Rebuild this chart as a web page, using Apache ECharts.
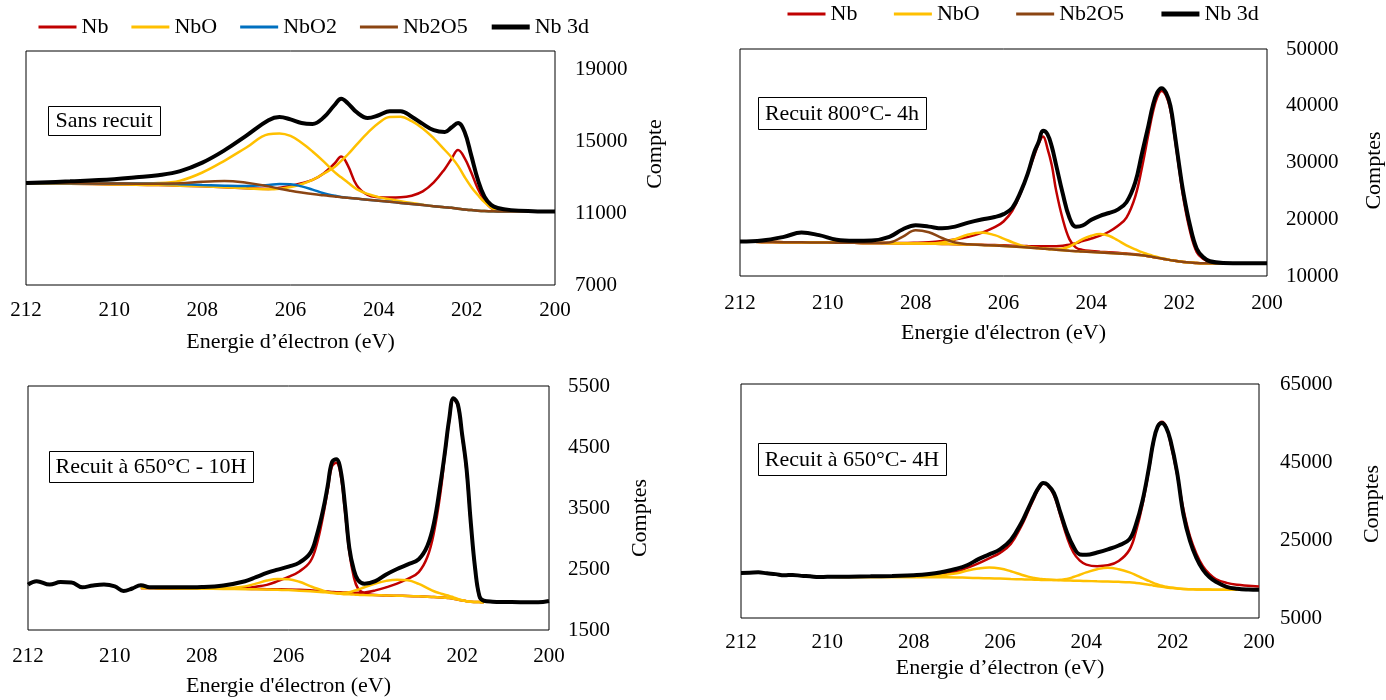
<!DOCTYPE html>
<html>
<head>
<meta charset="utf-8">
<title>Nb 3d</title>
<script src="https://cdn.jsdelivr.net/npm/echarts@6/dist/echarts.min.js"></script>
<style>
html, body { margin: 0; padding: 0; background: #fff; }
#chart { width: 1386px; height: 700px; }
</style>
</head>
<body>
<div id="chart"></div>
<script>
// --- Sans recuit ---
const p1E = [212, 211, 210, 209.5, 209, 208.5, 208, 207.5, 207, 206.5, 206.25, 206, 205.75, 205.5, 205.25, 205, 204.85, 204.7, 204.5, 204.25, 204, 203.75, 203.5, 203.25, 203, 202.75, 202.5, 202.35, 202.2, 202.05, 201.9, 201.75, 201.6, 201.45, 201.3, 201, 200.5, 200];
const p1Nb = [12640, 12620, 12590, 12570, 12550, 12520, 12480, 12430, 12370, 12330, 12400, 12500, 12650, 12840, 13200, 13750, 14140, 13650, 12550, 12000, 11880, 11860, 11870, 11960, 12200, 12700, 13450, 14000, 14500, 14050, 13250, 12350, 11700, 11270, 11120, 11090, 11080, 11080];
const p1NbOa = [12650, 12640, 12640, 12640, 12660, 12800, 13250, 13900, 14640, 15380, 15420, 15280, 14900, 14420, 13870, 13270, 12980, 12700, 12330, 12060, 11880, 11760, 11650, 11550, 11460, 11380, 11320, 11290, 11230, 11190, 11160, 11130, 11110, 11100, 11090, 11090, 11080, 11080];
const p1NbOb = [12640, 12620, 12590, 12570, 12550, 12520, 12480, 12430, 12370, 12320, 12350, 12440, 12600, 12840, 13180, 13550, 13900, 14250, 14800, 15450, 16000, 16330, 16350, 16100, 15700, 15150, 14500, 14100, 13620, 13000, 12450, 12000, 11600, 11300, 11150, 11090, 11080, 11080];
const p1NbO2 = [12650, 12650, 12640, 12640, 12630, 12600, 12560, 12520, 12500, 12560, 12610, 12600, 12480, 12300, 12100, 11960, 11890, 11850, 11800, 11740, 11680, 11620, 11560, 11500, 11440, 11380, 11320, 11290, 11230, 11190, 11160, 11130, 11110, 11100, 11090, 11090, 11080, 11080];
const p1Nb2O5 = [12660, 12650, 12640, 12630, 12630, 12650, 12740, 12780, 12680, 12480, 12350, 12240, 12140, 12050, 11980, 11920, 11880, 11850, 11800, 11740, 11680, 11620, 11560, 11500, 11440, 11380, 11320, 11290, 11230, 11190, 11160, 11130, 11110, 11100, 11090, 11090, 11080, 11080];
const p1Nb3d = [12660, 12760, 12880, 12980, 13100, 13330, 13800, 14480, 15300, 16150, 16330, 16200, 16000, 15950, 16300, 17000, 17350, 17100, 16600, 16280, 16430, 16650, 16650, 16350, 15950, 15600, 15500, 15750, 16000, 15500, 14200, 12850, 11900, 11450, 11280, 11160, 11100, 11080];

// --- Recuit 800°C- 4h ---
const p2E = [212, 211.5, 211, 210.6, 210.2, 209.8, 209.4, 209, 208.6, 208.3, 208, 207.7, 207.4, 207.1, 206.8, 206.5, 206.2, 206, 205.8, 205.6, 205.45, 205.3, 205.2, 205.1, 205, 204.9, 204.8, 204.65, 204.5, 204.35, 204.2, 204, 203.8, 203.6, 203.4, 203.2, 203, 202.85, 202.7, 202.6, 202.5, 202.4, 202.3, 202.2, 202.1, 202, 201.9, 201.75, 201.6, 201.45, 201.3, 201, 200.5, 200];
const p2NbA = [16050, 16000, 15960, 15930, 15900, 15870, 15840, 15830, 15820, 15800, 15850, 15950, 16150, 16450, 16900, 17600, 18600, 19600, 21500, 24800, 28000, 31200, 33300, 34600, 32500, 29500, 25000, 20000, 16500, 15000, 14600, 14400, 14280, 14180, 14080, 13960, 13820, 13680, 13480, 13360, 13220, 13080, 12940, 12800, 12680, 12560, 12460, 12360, 12300, 12260, 12240, 12230, 12230, 12230];
const p2NbB = [16050, 16000, 15960, 15930, 15900, 15870, 15840, 15810, 15780, 15750, 15720, 15690, 15650, 15600, 15540, 15500, 15450, 15400, 15350, 15300, 15270, 15250, 15240, 15230, 15230, 15240, 15260, 15350, 15500, 15800, 16150, 16600, 17100, 17800, 18800, 20300, 24000, 29000, 35000, 38800, 41500, 42600, 41800, 39300, 34300, 28800, 23500, 17800, 14200, 13000, 12500, 12240, 12230, 12230];
const p2NbOa = [16050, 16000, 15960, 15930, 15900, 15870, 15840, 15810, 15780, 15750, 15720, 15720, 15900, 16500, 17300, 17650, 17200, 16600, 15950, 15400, 15150, 15000, 14920, 14850, 14760, 14700, 14640, 14550, 14460, 14380, 14300, 14220, 14140, 14060, 13980, 13880, 13760, 13640, 13480, 13360, 13220, 13080, 12940, 12800, 12680, 12560, 12460, 12360, 12300, 12260, 12240, 12230, 12230, 12230];
const p2NbOb = [16050, 16000, 15960, 15930, 15900, 15870, 15840, 15810, 15780, 15750, 15720, 15690, 15650, 15600, 15540, 15470, 15380, 15300, 15200, 15100, 15020, 14940, 14880, 14850, 14800, 14750, 14750, 14850, 15200, 15800, 16500, 17100, 17400, 17100, 16300, 15400, 14700, 14200, 13800, 13550, 13350, 13150, 12980, 12820, 12680, 12560, 12460, 12360, 12300, 12260, 12240, 12230, 12230, 12230];
const p2Nb2O5 = [16050, 16000, 15960, 15930, 15900, 15870, 15840, 15810, 15900, 16900, 18050, 17700, 16700, 15900, 15600, 15470, 15380, 15300, 15200, 15100, 15020, 14940, 14880, 14820, 14760, 14700, 14640, 14550, 14460, 14380, 14300, 14220, 14140, 14060, 13980, 13880, 13760, 13640, 13480, 13360, 13220, 13080, 12940, 12800, 12680, 12560, 12460, 12360, 12300, 12260, 12240, 12230, 12230, 12230];
const p2Nb3d = [16080, 16250, 16900, 17650, 17200, 16400, 16200, 16250, 16900, 18200, 18950, 18700, 18400, 18700, 19400, 19950, 20400, 20900, 22000, 25000, 28000, 31800, 33600, 35600, 35000, 32800, 29500, 24500, 20300, 18700, 18900, 19900, 20600, 21100, 21700, 23000, 26500, 31500, 36500, 40000, 42300, 43100, 42300, 40000, 35000, 29500, 24500, 18800, 14800, 13300, 12600, 12300, 12250, 12250];

// --- Recuit à 650°C - 10H ---
const p3E = [212, 211.8, 211.5, 211.25, 211, 210.75, 210.5, 210.25, 210, 209.8, 209.6, 209.4, 209.2, 209, 208.5, 208, 207.5, 207, 206.75, 206.5, 206.25, 206, 205.75, 205.5, 205.35, 205.2, 205.1, 205, 204.9, 204.8, 204.7, 204.6, 204.5, 204.4, 204.25, 204, 203.75, 203.5, 203.25, 203, 202.8, 202.65, 202.5, 202.4, 202.3, 202.2, 202.1, 202, 201.9, 201.8, 201.7, 201.6, 201.5, 201.3, 201, 200.5, 200.25, 200];
const p3Fit = p3E.filter(e => e <= 209.4 && e >= 201.5);
const p3NbA = [2190, 2188, 2186, 2182, 2178, 2180, 2190, 2210, 2240, 2300, 2370, 2460, 2620, 2900, 3380, 3780, 4180, 4240, 4050, 3450, 2780, 2380, 2180, 2100, 2075, 2066, 2062, 2058, 2052, 2046, 2040, 2034, 2030, 2024, 2012, 1998, 1984, 1972, 1964, 1960, 1957, 1955];
const p3NbB = [2190, 2188, 2186, 2182, 2178, 2176, 2175, 2172, 2170, 2168, 2165, 2158, 2150, 2143, 2135, 2130, 2125, 2120, 2118, 2115, 2112, 2110, 2110, 2115, 2150, 2200, 2260, 2340, 2450, 2700, 3100, 3750, 4350, 4920, 5280, 5180, 4680, 4100, 3230, 2480, 2030, 1960];
const p3NbOa = [2190, 2188, 2186, 2182, 2178, 2185, 2215, 2260, 2310, 2335, 2330, 2290, 2220, 2180, 2145, 2125, 2110, 2100, 2094, 2088, 2084, 2080, 2077, 2073, 2070, 2066, 2062, 2058, 2052, 2046, 2040, 2034, 2030, 2024, 2012, 1998, 1984, 1972, 1964, 1960, 1957, 1955];
const p3NbOb = [2190, 2188, 2186, 2182, 2178, 2174, 2170, 2166, 2162, 2158, 2154, 2145, 2135, 2128, 2120, 2115, 2108, 2105, 2105, 2110, 2120, 2140, 2160, 2200, 2260, 2305, 2325, 2315, 2255, 2185, 2135, 2100, 2078, 2060, 2035, 2010, 1990, 1972, 1964, 1960, 1957, 1955];
const p3Nb3d = [2245, 2300, 2245, 2285, 2280, 2200, 2230, 2245, 2215, 2140, 2180, 2235, 2200, 2200, 2200, 2205, 2230, 2300, 2365, 2435, 2490, 2540, 2605, 2760, 3050, 3480, 3850, 4250, 4300, 4120, 3550, 2850, 2500, 2320, 2260, 2300, 2410, 2500, 2575, 2660, 2880, 3250, 3900, 4400, 4950, 5300, 5200, 4700, 4150, 3250, 2500, 2050, 1980, 1965, 1960, 1955, 1955, 1975];

// --- Recuit à 650°C- 4H ---
const p4E = [212, 211.8, 211.6, 211.4, 211.2, 211, 210.8, 210.6, 210.4, 210.2, 210, 209.5, 209, 208.5, 208, 207.5, 207, 206.75, 206.5, 206.25, 206, 205.75, 205.5, 205.35, 205.2, 205.1, 205, 204.9, 204.75, 204.6, 204.45, 204.3, 204.15, 204, 203.75, 203.5, 203.25, 203, 202.85, 202.7, 202.55, 202.45, 202.35, 202.25, 202.15, 202.05, 201.9, 201.75, 201.6, 201.45, 201.3, 201.15, 201, 200.75, 200.5, 200.25, 200];
const p4Fit = p4E.filter(e => e <= 210);
const p4Nb = [15550, 15580, 15620, 15700, 15850, 16200, 16900, 17900, 19000, 20300, 21700, 24000, 28700, 32300, 36000, 38200, 39400, 39000, 36500, 31200, 25800, 21800, 19700, 18700, 18300, 18500, 19600, 22500, 27200, 34000, 43000, 49700, 54000, 55300, 54000, 49800, 42000, 32800, 26000, 21500, 18300, 16300, 15000, 14000, 13500, 13300, 13100];
const p4NbOa = [15550, 15520, 15500, 15490, 15550, 15800, 16500, 17200, 17700, 17950, 17700, 17000, 16100, 15600, 15250, 15050, 14950, 14850, 14760, 14650, 14610, 14570, 14530, 14490, 14420, 14350, 14270, 14150, 14000, 13800, 13550, 13350, 13150, 12980, 12840, 12720, 12560, 12450, 12380, 12330, 12300, 12280, 12260, 12250, 12240, 12230, 12230];
const p4NbOb = [15550, 15520, 15500, 15490, 15480, 15450, 15380, 15320, 15250, 15180, 15100, 15000, 14920, 14870, 14820, 14790, 14760, 14730, 14720, 14800, 15000, 15500, 16100, 16700, 17500, 17900, 17500, 16700, 16000, 15200, 14500, 14000, 13600, 13250, 13000, 12800, 12600, 12450, 12380, 12330, 12300, 12280, 12260, 12250, 12240, 12230, 12230];
const p4Nb3d = [16550, 16600, 16700, 16450, 16250, 15950, 16050, 15800, 15700, 15500, 15550, 15600, 15680, 15800, 15950, 16450, 17650, 18600, 20100, 21300, 22600, 25000, 29500, 33000, 36500, 38500, 39600, 39200, 37000, 32000, 27000, 23300, 21300, 21200, 21800, 22600, 23600, 25200, 29000, 35000, 43500, 50000, 54000, 55000, 53800, 50500, 42500, 31500, 24800, 20400, 17400, 15500, 14300, 13000, 12500, 12300, 12230];

// axis ticks
const y1Ticks = [7000, 11000, 15000, 19000];
const y2Ticks = [10000, 20000, 30000, 40000, 50000];
const y3Ticks = [1500, 2500, 3500, 4500, 5500];
const y4Ticks = [5000, 25000, 45000, 65000];

const FONT = '"Liberation Serif", "Times New Roman", serif';
const COLORS = { 'Nb': '#C00000', 'NbO': '#FFC000', 'NbO2': '#0070C0', 'Nb2O5': '#8B4513', 'Nb 3d': '#000000' };

function line(name, gi, xs, ys) {
  return {
    name: name,
    type: 'line',
    xAxisIndex: gi,
    yAxisIndex: gi,
    data: xs.map((x, i) => [x, ys[i]]),
    symbol: 'none',
    smooth: 0.4,
    animation: false,
    lineStyle: { color: COLORS[name], width: name === 'Nb 3d' ? 4 : 2.5 },
    itemStyle: { color: COLORS[name] }
  };
}

function legendItems(names) {
  return names.map(n => ({ name: n, lineStyle: { width: n === 'Nb 3d' ? 5 : 3 } }));
}

// yPad shifts the rotated axis title along the axis (left pad = up, right pad = down)
const panels = [
  { grid: { left: 26, top: 51, width: 529, height: 234 }, min: 7000, max: 20000, ticks: y1Ticks,
    yName: 'Compte', yGap: 89, yMargin: 20, yPad: [0, 0, 0, 28], xName: 'Energie d’électron (eV)', xGap: 46, xMargin: 15 },
  { grid: { left: 740, top: 49, width: 528, height: 227 }, min: 10000, max: 50000, ticks: y2Ticks,
    yName: 'Comptes', yGap: 96, yMargin: 19, yPad: [0, 16, 0, 0], xName: "Energie d'électron (eV)", xGap: 46, xMargin: 17 },
  { grid: { left: 28, top: 386, width: 521, height: 244 }, min: 1500, max: 5500, ticks: y3Ticks,
    yName: 'Comptes', yGap: 80, yMargin: 19, yPad: [0, 20, 0, 0], xName: "Energie d'électron (eV)", xGap: 45, xMargin: 16 },
  { grid: { left: 741, top: 384, width: 518, height: 234 }, min: 5000, max: 65000, ticks: y4Ticks,
    yName: 'Comptes', yGap: 102, yMargin: 21, yPad: [0, 6, 0, 0], xName: 'Energie d’électron (eV)', xGap: 39, xMargin: 14 }
];

const notes = [
  { text: 'Sans recuit', x: 48, y: 106, w: 112, h: 29 },
  { text: 'Recuit 800°C- 4h', x: 758, y: 97, w: 168, h: 32 },
  { text: 'Recuit à 650°C - 10H', x: 49, y: 451, w: 204, h: 31 },
  { text: 'Recuit à 650°C- 4H', x: 758, y: 443, w: 188, h: 32 }
];

const series = [
  line('Nb', 0, p1E, p1Nb),
  line('NbO', 0, p1E, p1NbOa),
  line('NbO', 0, p1E, p1NbOb),
  line('NbO2', 0, p1E, p1NbO2),
  line('Nb2O5', 0, p1E, p1Nb2O5),
  line('Nb 3d', 0, p1E, p1Nb3d),

  line('Nb', 1, p2E, p2NbA),
  line('Nb', 1, p2E, p2NbB),
  line('NbO', 1, p2E, p2NbOa),
  line('NbO', 1, p2E, p2NbOb),
  line('Nb2O5', 1, p2E, p2Nb2O5),
  line('Nb 3d', 1, p2E, p2Nb3d),

  line('Nb', 2, p3Fit, p3NbA),
  line('Nb', 2, p3Fit, p3NbB),
  line('NbO', 2, p3Fit, p3NbOa),
  line('NbO', 2, p3Fit, p3NbOb),
  line('Nb 3d', 2, p3E, p3Nb3d),

  line('Nb', 3, p4Fit, p4Nb),
  line('NbO', 3, p4Fit, p4NbOa),
  line('NbO', 3, p4Fit, p4NbOb),
  line('Nb 3d', 3, p4E, p4Nb3d)
];

const legendBase = {
  orient: 'horizontal',
  padding: 0,
  itemWidth: 38,
  itemHeight: 14,
  selectedMode: false,
  itemStyle: { opacity: 0 },
  textStyle: { fontFamily: FONT, fontSize: 22, color: '#000' }
};

const chart = echarts.init(document.getElementById('chart'));
chart.setOption({
  backgroundColor: '#fff',
  animation: false,
  legend: [
    Object.assign({}, legendBase, { left: 37, top: 16, itemGap: 21.5, data: legendItems(['Nb', 'NbO', 'NbO2', 'Nb2O5', 'Nb 3d']) }),
    Object.assign({}, legendBase, { left: 786, top: 3, itemGap: 35, data: legendItems(['Nb', 'NbO', 'Nb2O5', 'Nb 3d']) })
  ],
  grid: panels.map(p => Object.assign({ show: true, borderColor: '#000', borderWidth: 1, backgroundColor: 'transparent' }, p.grid)),
  xAxis: panels.map((p, i) => ({
    type: 'value',
    gridIndex: i,
    min: 200,
    max: 212,
    interval: 2,
    inverse: true,
    name: p.xName,
    nameLocation: 'middle',
    nameGap: p.xGap,
    nameTextStyle: { fontFamily: FONT, fontSize: 22, color: '#000' },
    axisLine: { show: false },
    axisTick: { show: false },
    splitLine: { show: false },
    axisLabel: { margin: p.xMargin, fontFamily: FONT, fontSize: 21, color: '#000' }
  })),
  yAxis: panels.map((p, i) => ({
    type: 'value',
    gridIndex: i,
    position: 'right',
    min: p.min,
    max: p.max,
    name: p.yName,
    nameLocation: 'middle',
    nameRotate: 90,
    nameGap: p.yGap,
    nameTextStyle: { fontFamily: FONT, fontSize: 22, color: '#000', padding: p.yPad },
    axisLine: { show: false },
    axisTick: { show: false },
    splitLine: { show: false },
    axisLabel: { customValues: p.ticks, formatter: v => String(v), margin: p.yMargin, fontFamily: FONT, fontSize: 21, color: '#000' }
  })),
  graphic: notes.flatMap(n => [
    { type: 'rect', z: 10, shape: { x: n.x + 0.5, y: n.y + 0.5, width: n.w, height: n.h },
      style: { fill: '#fff', stroke: '#000', lineWidth: 1 } },
    { type: 'text', z: 11, x: n.x + n.w / 2, y: n.y + n.h / 2 + 1,
      style: { text: n.text, font: '22px ' + FONT, fill: '#000', align: 'center', verticalAlign: 'middle' } }
  ]),
  series: series
});
</script>
</body>
</html>
